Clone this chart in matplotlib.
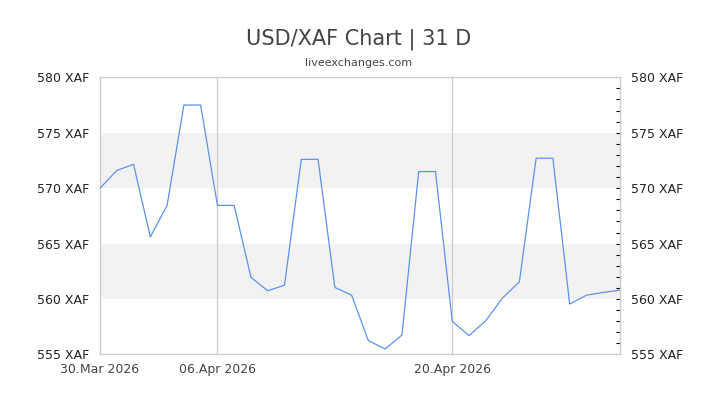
import numpy as np
import pandas as pd
import matplotlib
matplotlib.use('Agg')
import matplotlib.pyplot as plt
import matplotlib.dates as mdates
from matplotlib.ticker import MultipleLocator, FixedLocator, FuncFormatter

# daily USD/XAF rates, 30 Mar 2026 .. 30 Apr 2026
dates = pd.date_range('2026-03-30', '2026-04-30', freq='D')
rates = [570.0, 571.6, 572.15, 565.6, 568.45, 577.5, 577.5, 568.45,
         568.45, 561.95, 560.75, 561.25, 572.6, 572.6, 561.05, 560.35,
         556.25, 555.5, 556.75, 571.5, 571.5, 558.0, 556.7, 558.05,
         560.1, 561.55, 572.7, 572.7, 559.55, 560.35, 560.6, 560.8]
tick_dates = pd.to_datetime(['2026-03-30', '2026-04-06', '2026-04-20'])
grid_dates = pd.to_datetime(['2026-04-06', '2026-04-20'])
bands = [(560, 565), (570, 575)]
ymin, ymax = 555, 580

fig = plt.figure(figsize=(7.2, 4.05), dpi=100)
ax = fig.add_axes([0.1389, 0.1247, 0.7222, 0.6844])

for lo, hi in bands:
    ax.axhspan(lo, hi, color='#f2f2f2', lw=0, zorder=0)
for d in grid_dates:
    ax.axvline(d, color='#cccccc', lw=0.9, zorder=1)

ax.plot(dates, rates, color='#5b93ec', lw=0.9, zorder=3)

ax.set_xlim(dates[0], dates[-1])
ax.set_ylim(ymin, ymax)

for s in ax.spines.values():
    s.set_color('#cccccc')
    s.set_linewidth(1.0)

ax.set_xticks(tick_dates)
ax.xaxis.set_major_formatter(mdates.DateFormatter('%d.%b %Y'))
ax.tick_params(axis='x', length=0, pad=6, labelsize=9, labelcolor='#444444')

# labels every 5, small inner ticks every 1 (not on the frame ends)
ax.yaxis.remove_overlapping_locs = False
ax.yaxis.set_major_locator(MultipleLocator(5))
ax.yaxis.set_minor_locator(FixedLocator(np.arange(ymin + 1, ymax)))
ax.yaxis.set_major_formatter(FuncFormatter(lambda v, p: '%d XAF' % v))
ax.tick_params(axis='y', which='both', left=False, right=True,
               labelleft=True, labelright=True, direction='in',
               labelsize=9, labelcolor='#222222', color='black', width=0.8)
ax.tick_params(axis='y', which='major', length=0, pad=8)
ax.tick_params(axis='y', which='minor', length=3)

fig.text(0.498, 0.902, 'USD/XAF Chart | 31 D', ha='center', va='center',
         fontsize=15, color='#444444')
fig.text(0.498, 0.844, 'liveexchanges.com', ha='center', va='center',
         fontsize=8, color='#444444')

fig.savefig('out.png', dpi=100)
